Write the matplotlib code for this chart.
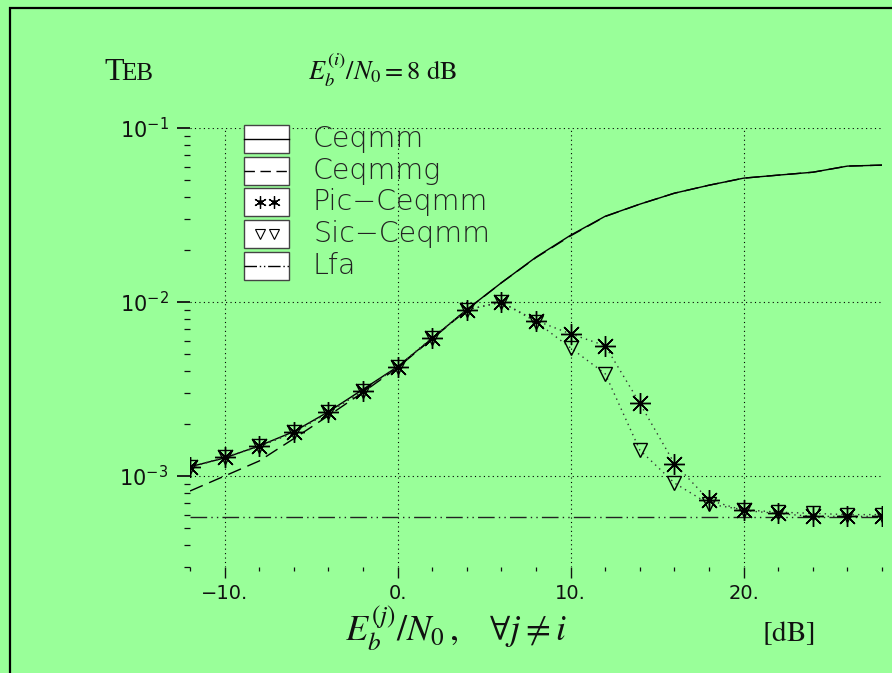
import math
import matplotlib
matplotlib.use('Agg')
import matplotlib.pyplot as plt
from matplotlib.lines import Line2D
from matplotlib.patches import Rectangle
from matplotlib.ticker import FixedLocator, LogLocator, MultipleLocator, NullFormatter, FuncFormatter

# ---------------- data ----------------
snr_db = [-12, -10, -8, -6, -4, -2, 0, 2, 4, 6, 8, 10, 12, 14, 16, 18, 20, 22, 24, 26, 28]
ceqmm = [1.13e-3, 1.27e-3, 1.49e-3, 1.80e-3, 2.34e-3, 3.15e-3, 4.25e-3, 6.18e-3, 9.05e-3,
         1.29e-2, 1.81e-2, 2.42e-2, 3.11e-2, 3.65e-2, 4.22e-2, 4.69e-2, 5.15e-2, 5.36e-2,
         5.57e-2, 6.04e-2, 6.12e-2]
ceqmmg = [8.2e-4, 1.0e-3, 1.22e-3, 1.64e-3, 2.22e-3, 3.03e-3, 4.2e-3, 6.15e-3, 9.0e-3,
          1.29e-2, 1.80e-2, 2.40e-2, 3.10e-2, 3.65e-2, 4.22e-2, 4.69e-2, 5.15e-2, 5.36e-2,
          5.57e-2, 6.04e-2, 6.12e-2]
pic_ceqmm = [1.12e-3, 1.28e-3, 1.48e-3, 1.78e-3, 2.32e-3, 3.09e-3, 4.25e-3, 6.22e-3, 9.02e-3,
             9.98e-3, 7.82e-3, 6.56e-3, 5.61e-3, 2.62e-3, 1.18e-3, 7.27e-4, 6.34e-4, 6.09e-4,
             5.86e-4, 5.86e-4, 5.86e-4]
sic_ceqmm = [1.12e-3, 1.28e-3, 1.48e-3, 1.78e-3, 2.32e-3, 3.09e-3, 4.25e-3, 6.22e-3, 9.02e-3,
             9.98e-3, 7.7e-3, 5.45e-3, 3.87e-3, 1.41e-3, 9.12e-4, 6.9e-4, 6.4e-4, 6.2e-4,
             6.1e-4, 6.0e-4, 6.0e-4]
lfa_x = [-12, 28]
lfa = [5.8e-4, 5.8e-4]

series_names = ['Ceqmm', 'Ceqmmg', 'Pic\u2212Ceqmm', 'Sic\u2212Ceqmm', 'Lfa']
x_major_ticks = [-10, 0, 10, 20]
x_tick_labels = ['\u221210.', '0.', '10.', '20.']
y_major_ticks = [1e-3, 1e-2, 1e-1]

# ---------------- style ----------------
BG = '#99ff99'
INK = '#111111'
plt.rcParams['mathtext.fontset'] = 'dejavusans'

W, H = 892, 673
fig = plt.figure(figsize=(W / 100, H / 100), dpi=100, facecolor=BG)

# outer frame (cut at right and bottom)
fig.patches.append(Rectangle((10 / W, -0.1), 1.2, 1 - 8 / H + 0.1, transform=fig.transFigure,
                             fill=False, edgecolor='black', lw=1.6, clip_on=False))

ax = fig.add_axes([190 / W, 1 - 567 / H, (882 - 190) / W, (567 - 128) / H])
ax.set_facecolor(BG)
ax.set_yscale('log')
ax.set_xlim(-12, 28)
ax.set_ylim(3e-4, 1e-1)
for s in ax.spines.values():
    s.set_visible(False)

grid_ls = (0, (1, 3))
ax.xaxis.set_major_locator(FixedLocator(x_major_ticks))
ax.xaxis.set_minor_locator(MultipleLocator(2))
ax.set_xticks(x_major_ticks)
ax.set_xticklabels(x_tick_labels)
ax.yaxis.set_major_locator(FixedLocator(y_major_ticks))
ax.yaxis.set_minor_locator(LogLocator(base=10, subs=range(2, 10)))
ax.yaxis.set_minor_formatter(NullFormatter())
ax.yaxis.set_major_formatter(FuncFormatter(lambda v, p: r'$10^{%d}$' % round(math.log10(v))))
ax.grid(True, which='major', color='black', linestyle=grid_ls, lw=0.8)
ax.tick_params(axis='both', which='major', direction='out', color=INK, labelcolor=INK)
ax.tick_params(axis='y', which='major', length=9.5, width=1.3, pad=6, labelsize=15)
ax.tick_params(axis='y', which='minor', length=4.5, width=0.9, color=INK)
ax.tick_params(axis='x', which='major', length=8, width=1.0, pad=4, labelsize=14)
ax.tick_params(axis='x', which='minor', length=3, width=0.9, color=INK)

# ---------------- curves ----------------
ax.plot(snr_db, ceqmm, color='black', lw=1.0, zorder=3)
ax.plot(snr_db, ceqmmg, color='black', lw=1.0, linestyle=(0, (10, 5)), zorder=3)
ax.plot(lfa_x, lfa, color='#222222', lw=1.0, linestyle=(0, (12, 3, 1, 3, 1, 3)), zorder=3)

ax.plot(snr_db, sic_ceqmm, color='#333333', lw=1.0, linestyle=(0, (1, 3)), zorder=4)
ax.plot(snr_db, pic_ceqmm, color='#333333', lw=1.0, linestyle=(0, (1, 3)), zorder=4)
ax.plot(snr_db, sic_ceqmm, linestyle='none', marker='v', ms=10.5, mfc='none', mec='black',
        mew=1.0, zorder=5)
ax.plot(snr_db, pic_ceqmm, linestyle='none', marker=(8, 2, 0), ms=15, mec='black',
        mew=1.0, zorder=6)
ax.plot(snr_db, pic_ceqmm, linestyle='none', marker='o', ms=3, mfc='black', mec='black', zorder=7)

# ---------------- legend (drawn as in the original: boxed samples) ----------------
ta = ax.transAxes
ax_w, ax_h = 882 - 190, 567 - 128
bx0, bx1 = (244 - 190) / ax_w, (289 - 190) / ax_w
row_px = [139, 171, 202, 234, 266]
bh = 28 / ax_h
styles = [
    dict(kind='line', ls='-'),
    dict(kind='line', ls=(0, (7.5, 4))),
    dict(kind='star'),
    dict(kind='tri'),
    dict(kind='line', ls=(0, (9, 2, 1, 2, 1, 2))),
]
for name, py, st in zip(series_names, row_px, styles):
    yc = (567 - py) / ax_h
    ax.add_patch(Rectangle((bx0, yc - bh / 2), bx1 - bx0, bh, transform=ta, facecolor='white',
                           edgecolor='#444444', lw=1.0, clip_on=False, zorder=8))
    if st['kind'] == 'line':
        ax.add_line(Line2D([bx0, bx1], [yc, yc], transform=ta, color='black', lw=1.0,
                           linestyle=st['ls'], clip_on=False, zorder=9))
    else:
        mx = [(260 - 190) / ax_w, (274 - 190) / ax_w]
        if st['kind'] == 'star':
            ax.add_line(Line2D(mx, [yc, yc], transform=ta, linestyle='none', marker=(6, 2, 0),
                               ms=9, mec='black', mew=0.9, clip_on=False, zorder=9))
            ax.add_line(Line2D(mx, [yc, yc], transform=ta, linestyle='none', marker='o',
                               ms=2.5, mfc='black', mec='black', clip_on=False, zorder=9))
        else:
            ax.add_line(Line2D(mx, [yc, yc], transform=ta, linestyle='none', marker='v',
                               ms=6.5, mfc='none', mec='black', mew=0.8, clip_on=False, zorder=9))
    ax.text((313 - 190) / ax_w, yc, name, transform=ta, fontsize=20.5, fontweight='light',
            color='#222222', va='center', ha='left', zorder=9)

# ---------------- titles / labels ----------------
fig.text(104 / W, 1 - 80 / H, 'T', fontsize=23, family='Liberation Serif', color=INK,
         ha='left', va='baseline')
fig.text(121 / W, 1 - 80 / H, 'EB', fontsize=18, family='Liberation Serif', color=INK,
         ha='left', va='baseline')
fig.text(308 / W, 1 - 80 / H, r'$E_b^{(i)}/N_0 = 8\ \mathrm{dB}$', fontsize=19,
         math_fontfamily='stix', color=INK, ha='left', va='baseline')
fig.text(345 / W, 1 - 641 / H, r'$E_b^{(j)}/N_0\,,\quad \forall j \neq i$', fontsize=26,
         math_fontfamily='stix', color=INK, ha='left', va='baseline')
fig.text(762 / W, 1 - 641 / H, r'$[\mathrm{dB}]$', fontsize=21,
         math_fontfamily='stix', color=INK, ha='left', va='baseline')

fig.savefig('out.png', dpi=100, facecolor=BG)
